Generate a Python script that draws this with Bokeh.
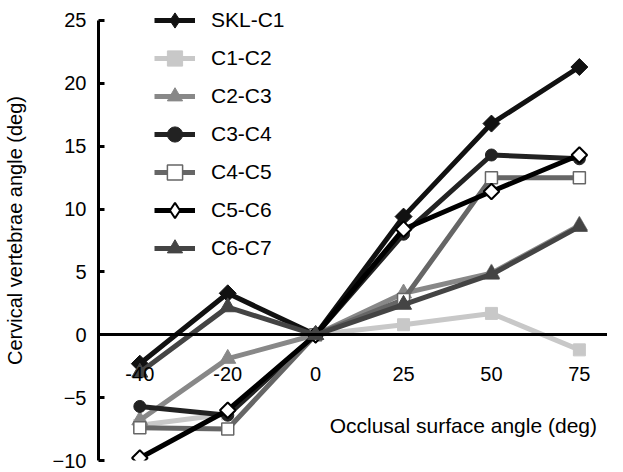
import math
from bokeh.plotting import figure
from bokeh.models import Range1d, FixedTicker, Legend, LegendItem, Label
from bokeh.embed import file_html
from bokeh.resources import INLINE

# ---- data ----
angles = ["-40", "-20", "0", "25", "50", "75"]
skl_c1 = [-2.3, 3.3, 0.0, 9.4, 16.8, 21.3]
c1_c2 = [-7.2, -6.3, 0.0, 0.8, 1.7, -1.2]
c2_c3 = [-6.8, -1.9, 0.0, 3.3, 4.9, 8.7]
c3_c4 = [-5.7, -6.4, 0.0, 8.0, 14.3, 14.0]
c4_c5 = [-7.4, -7.5, 0.0, 2.8, 12.5, 12.5]
c5_c6 = [-9.8, -6.0, 0.0, 8.4, 11.4, 14.3]
c6_c7 = [-3.0, 2.2, 0.0, 2.4, 4.8, 8.6]
y_ticks = [-10, -5, 0, 5, 10, 15, 20, 25]

FONT = "Liberation Sans"
xs = list(range(len(angles)))
NAN = float("nan")

p = figure(width=607, height=472, output_backend="svg", toolbar_location=None,
           x_range=Range1d(-0.47, 5.32), y_range=Range1d(-10, 26.59),
           min_border_left=89, min_border_right=0, min_border_top=0, min_border_bottom=12)
p.outline_line_color = None
p.grid.visible = False
p.background_fill_color = "white"

# series: label, values, line color, marker, size, angle, fill, marker line color,
#         marker line width, legend marker
series = [
    ("SKL-C1", skl_c1, "#111111", "square", 12, math.pi / 4, "#111111", "#111111", 1, "diamond"),
    ("C1-C2", c1_c2, "#c8c8c8", "square", 12, 0, "#c8c8c8", "#c8c8c8", 1, "square"),
    ("C2-C3", c2_c3, "#888888", "triangle", 16, 0, "#888888", "#888888", 1, "triangle"),
    ("C3-C4", c3_c4, "#222222", "circle", 12, 0, "#222222", "#222222", 1, "circle"),
    ("C4-C5", c4_c5, "#666666", "square", 12, 0, "white", "#666666", 1.5, "square"),
    ("C5-C6", c5_c6, "#000000", "square", 11, math.pi / 4, "white", "#000000", 2, "diamond"),
    ("C6-C7", c6_c7, "#444444", "triangle", 16, 0, "#444444", "#444444", 1, "triangle"),
]

items = []
for label, vals, lc, marker, size, ang, fill, mlc, mlw, lmarker in series:
    r1 = p.line(xs, vals, line_color=lc, line_width=5)
    p.scatter(xs, vals, marker=marker, size=size, angle=ang,
              fill_color=fill, line_color=mlc, line_width=mlw)
    # legend-only glyph (a non-drawable NaN point) so the legend shows the intended symbol
    r3 = p.scatter([NAN], [NAN], marker=lmarker, size=size,
                   fill_color=fill, line_color=mlc, line_width=mlw)
    items.append(LegendItem(label=label, renderers=[r1, r3]))

legend = Legend(items=items, location=(56, 193), padding=0, margin=0,
                spacing=0, glyph_width=41, glyph_height=38, label_height=20,
                label_standoff=16, label_text_font=FONT, label_text_font_size="21px",
                label_text_color="black",
                border_line_color=None, background_fill_alpha=0)
p.add_layout(legend, "center")

# y axis
ya = p.yaxis[0]
ya.ticker = FixedTicker(ticks=y_ticks)
ya.bounds = (-10, 25)
ya.axis_line_width = 3
ya.axis_line_color = "black"
ya.major_tick_in = 6
ya.major_tick_out = 0
ya.major_tick_line_width = 3
ya.major_tick_line_color = "black"
ya.minor_tick_line_color = None
ya.major_label_standoff = 12
ya.major_label_text_font = FONT
ya.major_label_text_font_size = "20px"
ya.major_label_text_color = "black"
ya.axis_label = "Cervical vertebrae angle (deg)"
ya.axis_label_text_font = FONT
ya.axis_label_text_font_size = "20px"
ya.axis_label_text_font_style = "normal"
ya.axis_label_text_color = "black"
ya.axis_label_standoff = 24

# x axis at y = 0
xa = p.xaxis[0]
xa.fixed_location = 0
xa.ticker = FixedTicker(ticks=xs)
xa.major_label_overrides = {i: a for i, a in zip(xs, angles)}
xa.axis_line_width = 3
xa.axis_line_color = "black"
xa.major_tick_in = 0
xa.major_tick_out = 0
xa.minor_tick_line_color = None
xa.major_label_standoff = 32
xa.major_label_text_font = FONT
xa.major_label_text_font_size = "20px"
xa.major_label_text_color = "black"

p.add_layout(Label(x=3.68, y=-7.2, text="Occlusal surface angle (deg)",
                   text_align="center", text_baseline="middle",
                   text_font=FONT, text_font_size="21px", text_color="black"))

open("out.html", "w").write(file_html(p, INLINE))
